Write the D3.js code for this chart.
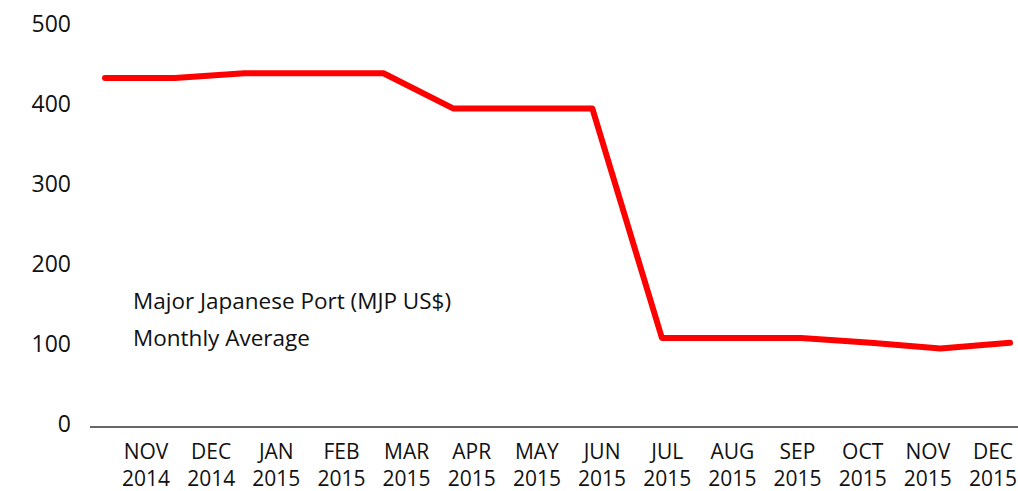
<!DOCTYPE html>
<html>
<head>
<meta charset="utf-8">
<script src="https://cdn.jsdelivr.net/npm/d3@7"></script>
<style>
  body { margin: 0; background: #fff; }
  svg { display: block; }
  text { font-family: "Open Sans", "DejaVu Sans", sans-serif; fill: #111; }
</style>
</head>
<body>
<div id="chart"></div>
<script>
var months = ["NOV", "DEC", "JAN", "FEB", "MAR", "APR", "MAY", "JUN", "JUL", "AUG", "SEP", "OCT", "NOV", "DEC"];
var years = ["2014", "2014", "2015", "2015", "2015", "2015", "2015", "2015", "2015", "2015", "2015", "2015", "2015", "2015"];
var prices = [435, 435, 441, 441, 441, 397, 397, 397, 110, 110, 110, 104, 97, 104];
var yTicks = [0, 100, 200, 300, 400, 500];
var noteLines = ["Major Japanese Port (MJP US$)", "Monthly Average"];

var width = 1018, height = 491;
var keys = months.map(function(m, i) { return i; });

var svg = d3.select("#chart").append("svg")
    .attr("width", width).attr("height", height);

var yScale = d3.scaleLinear().domain([0, 500]).range([426, 26]);
var lineScale = d3.scalePoint().domain(keys).range([105, 1010]);
var labelScale = d3.scalePoint().domain(keys).range([146, 993]);

// y axis
var yAxis = d3.axisLeft(yScale).tickValues(yTicks).tickSize(0).tickPadding(0);
svg.append("g").attr("class", "yAxis")
    .attr("transform", "translate(71, -2)")
    .call(yAxis)
    .call(function(g) { g.select(".domain").remove(); })
    .selectAll("text")
    .attr("font-size", 23)
    .attr("font-family", "\"Open Sans\", sans-serif")
    .attr("fill", "#111");

// x axis line
svg.append("line")
    .attr("x1", 90).attr("x2", width)
    .attr("y1", yScale(0) + 1).attr("y2", yScale(0) + 1)
    .attr("stroke", "#333").attr("stroke-width", 1.5);

// x labels
var xLabels = svg.append("g").attr("class", "xAxis");
xLabels.selectAll("text.month").data(keys).enter().append("text")
    .attr("class", "month")
    .attr("x", function(d) { return labelScale(d); })
    .attr("y", 459)
    .attr("text-anchor", "middle")
    .attr("font-size", 21)
    .text(function(d) { return months[d]; });
xLabels.selectAll("text.year").data(keys).enter().append("text")
    .attr("class", "year")
    .attr("x", function(d) { return labelScale(d); })
    .attr("y", 486)
    .attr("text-anchor", "middle")
    .attr("font-size", 21)
    .text(function(d) { return years[d]; });

// price line
var line = d3.line()
    .x(function(d) { return lineScale(d); })
    .y(function(d) { return yScale(prices[d]); });

svg.append("path").datum(keys)
    .attr("d", line)
    .attr("fill", "none")
    .attr("stroke", "#ff0000")
    .attr("stroke-width", 6)
    .attr("stroke-linecap", "round")
    .attr("stroke-linejoin", "round");

// annotation
svg.append("g").attr("class", "note")
    .selectAll("text").data(noteLines).enter().append("text")
    .attr("x", 133)
    .attr("y", function(d, i) { return 309 + i * 37; })
    .attr("font-size", 22.5)
    .text(function(d) { return d; });
</script>
</body>
</html>
